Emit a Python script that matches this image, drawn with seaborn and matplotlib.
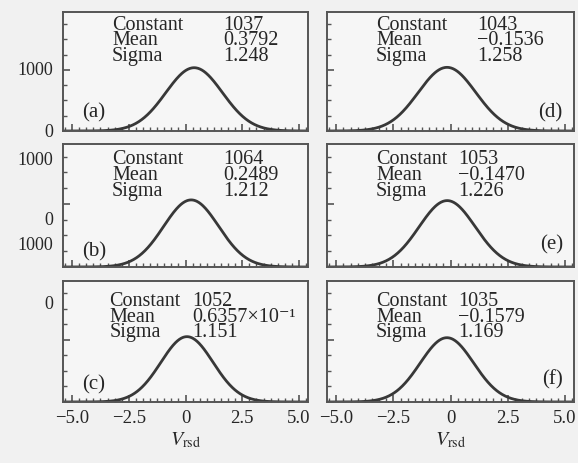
import numpy as np
import pandas as pd
import matplotlib
matplotlib.use("Agg")
import matplotlib.pyplot as plt
import matplotlib.transforms as mtransforms
from matplotlib.ticker import MultipleLocator, NullFormatter
import seaborn as sns

# ---- data (Gaussian fit parameters per panel) ----
panel_labels = ["(a)", "(b)", "(c)", "(d)", "(e)", "(f)"]
constants = [1037, 1064, 1052, 1043, 1053, 1035]
means = [0.3792, 0.2489, 0.06357, -0.1536, -0.1470, -0.1579]
sigmas = [1.248, 1.212, 1.151, 1.258, 1.226, 1.169]
constant_texts = ["1037", "1064", "1052", "1043", "1053", "1035"]
mean_texts = ["0.3792", "0.2489", "0.6357\u00d710\u207b\u00b9",
              "\u22120.1536", "\u22120.1470", "\u22120.1579"]
sigma_texts = ["1.248", "1.212", "1.151", "1.258", "1.226", "1.169"]
xtick_values = [-5.0, -2.5, 0.0, 2.5, 5.0]
xtick_labels = ["\u22125.0", "\u22122.5", "0", "2.5", "5.0"]
# left-side y labels as printed (label text, panel index, value position)
ylabel_texts = ["1000", "0", "1000", "0", "1000", "0"]
ylabel_panels = [0, 0, 1, 1, 1, 2]
ylabel_values = [1000, 0, 1712, 761, 349, 1579]

sns.set_theme(style="ticks")
plt.rcParams["font.family"] = ["Liberation Serif", "DejaVu Serif"]
plt.rcParams["mathtext.fontset"] = "stix"
plt.rcParams["axes.unicode_minus"] = True

INK = "#383838"
TXT = "#262626"
fig = plt.figure(figsize=(5.78, 4.64), dpi=100, facecolor="#f1f1f1")

left_cols = [0.109, 0.566]
widths = [0.424, 0.427]
rows = [(0.7155, 0.2565), (0.4224, 0.265), (0.1315, 0.261)]

# text layout per panel (axes fractions); y is the centre of the middle line
lab_x = [0.20, 0.20, 0.19, 0.198, 0.198, 0.198]
val_x = [0.653, 0.653, 0.527, 0.607, 0.53, 0.53]
text_y = [0.765, 0.755, 0.71, 0.765, 0.75, 0.71]
tag_pos = [(0.08, 0.16, "left"), (0.08, 0.13, "left"), (0.08, 0.15, "left"),
           (0.955, 0.16, "right"), (0.955, 0.19, "right"), (0.955, 0.19, "right")]

xs = np.linspace(-5.4, 5.4, 500)
axes = []
for i in range(6):
    col = i // 3
    row = i % 3
    b, h = rows[row]
    ax = fig.add_axes([left_cols[col], b, widths[col], h])
    ax.set_facecolor("#f6f6f6")
    axes.append(ax)
    # Gaussian fit curve defined by the printed fit parameters
    df = pd.DataFrame({"x": xs,
                       "y": constants[i] * np.exp(-0.5 * ((xs - means[i]) / sigmas[i]) ** 2)})
    sns.lineplot(data=df, x="x", y="y", ax=ax, color=INK, linewidth=2.0)
    ax.set_xlim(-5.4, 5.4)
    ax.set_ylim(0, 1950)
    ax.set_xlabel("")
    ax.set_ylabel("")
    for s in ax.spines.values():
        s.set_color("#555555")
        s.set_linewidth(1.4)
    ax.set_xticks(xtick_values)
    ax.xaxis.set_minor_locator(MultipleLocator(0.3125))
    ax.set_yticks([0, 1000])
    ax.yaxis.set_minor_locator(MultipleLocator(250))
    ax.yaxis.set_major_formatter(NullFormatter())
    ax.tick_params(axis="both", which="both", direction="in", colors="#555555",
                   top=False, right=False)
    ax.tick_params(which="major", length=5, width=1.2)
    ax.tick_params(which="minor", length=3, width=1.0)
    if row == 2:
        ax.set_xticklabels(xtick_labels, fontsize=13.5, color=TXT)
        ax.tick_params(axis="x", which="major", pad=5, labelcolor=TXT)
        ax.set_xlabel(r"$V_{\mathrm{rsd}}$", fontsize=14.5, color=TXT, labelpad=3)
    else:
        ax.xaxis.set_major_formatter(NullFormatter())
    # statistics box text (three lines per column)
    ax.text(lab_x[i], text_y[i], "Constant\nMean\nSigma", transform=ax.transAxes,
            fontsize=14.5, color=TXT, ha="left", va="center", linespacing=0.78)
    ax.text(val_x[i], text_y[i],
            "\n".join([constant_texts[i], mean_texts[i], sigma_texts[i]]),
            transform=ax.transAxes, fontsize=14.5, color=TXT, ha="left",
            va="center", linespacing=0.78)
    tx, tyy, ha = tag_pos[i]
    ax.text(tx, tyy, panel_labels[i], transform=ax.transAxes, fontsize=15,
            color=TXT, ha=ha, va="center")

# left-side y labels as they appear in the figure
for txt, p, v in zip(ylabel_texts, ylabel_panels, ylabel_values):
    ax = axes[p]
    trans = mtransforms.blended_transform_factory(ax.transAxes, ax.transData)
    ax.text(-0.04, v, txt, transform=trans, fontsize=13, color=TXT,
            ha="right", va="center", clip_on=False)

fig.savefig("out.png", dpi=100, facecolor=fig.get_facecolor())
